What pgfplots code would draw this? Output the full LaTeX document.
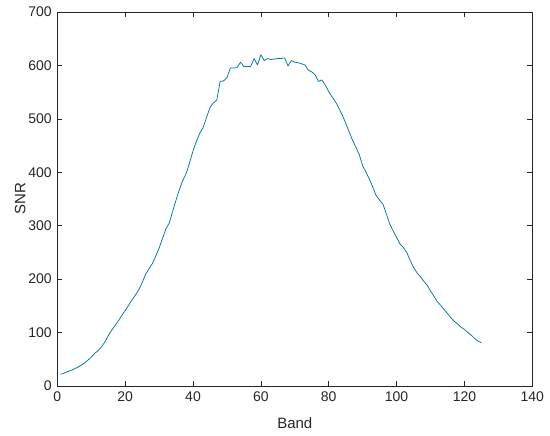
\documentclass[border=0pt]{standalone}
\usepackage{pgfplots}
\pgfplotsset{compat=1.18}
\usepackage{pgfplotstable}
\usepackage{fontspec}
\setmainfont{Liberation Sans}
\definecolor{mblue}{rgb}{0,0.447,0.741}
\definecolor{axgray}{rgb}{0.15,0.15,0.15}
\pgfplotstableread{
band snr
1 22
2 24
3 27
4 29
5 32
6 35
7 39
8 43
9 48
10 54
11 61
12 66
13 73
14 82
15 94
16 104
17 113
18 122
19 132
20 141
21 151
22 161
23 170
24 180
25 193
26 209
27 219
28 229
29 243
30 258
31 276
32 294
33 305
34 327
35 348
36 368
37 385
38 398
39 418
40 440
41 458
42 473
43 484
44 503
45 521
46 530
47 535
48 570
49 571
50 577
51 595
52 595
53 596
54 606
55 598
56 598
57 598
58 613
59 601
60 620
61 609
62 613
63 611
64 612
65 613
66 613
67 614
68 599
69 609
70 606
71 605
72 603
73 601
74 591
75 588
76 582
77 570
78 573
79 563
80 551
81 541
82 532
83 520
84 507
85 492
86 476
87 460
88 447
89 433
90 412
91 400
92 387
93 372
94 356
95 348
96 340
97 322
98 303
99 290
100 278
101 266
102 259
103 250
104 235
105 222
106 212
107 205
108 196
109 189
110 178
111 168
112 158
113 151
114 143
115 136
116 128
117 121
118 116
119 110
120 106
121 100
122 95
123 89
124 84
125 81
}\snrdata
\begin{document}
\begin{tikzpicture}
\begin{axis}[
  scale only axis, width=475pt, height=374pt,
  xmin=0, xmax=140, ymin=0, ymax=700,
  xtick={0,20,...,140}, ytick={0,100,...,700},
  tick align=inside,
  axis line style={axgray, line width=0.6pt},
  major tick length=5pt,
  tick style={axgray, line width=0.6pt},
  ticklabel style={font=\fontsize{14}{16}\selectfont, text=axgray},
  /pgf/number format/assume math mode=true,
  xlabel={Band}, ylabel={SNR},
  label style={font=\fontsize{15}{18}\selectfont, text=axgray},
  xlabel style={at={(axis description cs:0.5,0)}, anchor=center, yshift=-37pt},
  ylabel style={at={(axis description cs:0,0.5)}, anchor=center, yshift=37pt},
  xticklabel style={anchor=center, yshift=-11pt},
  yticklabel style={anchor=east, xshift=-2pt},
]
\addplot[mblue, line width=0.75pt, line join=round] table[x=band, y=snr] {\snrdata};
\end{axis}
\pgfresetboundingbox
\path[use as bounding box] (current axis.south west) +(-57.3pt,-50pt) (current axis.north east) +(17.7pt,12pt);
\end{tikzpicture}
\end{document}
